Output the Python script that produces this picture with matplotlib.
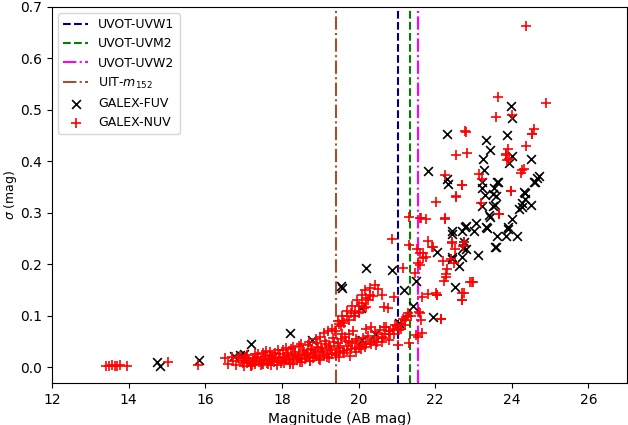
import matplotlib
matplotlib.use('Agg')
import matplotlib.pyplot as plt

# filter limiting magnitudes (AB mag)
uvw1_lim = 21.03
uvm2_lim = 21.34
uvw2_lim = 21.55
uit_lim = 19.42

# GALEX-FUV sources: magnitude, sigma
fuv_mag = [14.73, 14.81, 15.83, 16.74, 16.90, 17.02, 17.18, 18.22, 18.79, 19.55,
           19.58, 20.20, 20.87, 21.19, 21.50, 20.07, 20.43, 20.09, 21.06, 21.42,
           21.94, 22.05, 22.43, 22.70, 22.78, 23.00, 23.06, 22.75, 22.80, 22.70,
           22.62, 22.43, 23.11, 22.51, 23.58, 23.61, 23.32, 23.35, 23.43, 23.22,
           23.50, 23.58, 23.53, 23.22, 23.22, 23.63, 23.84, 23.90, 24.13, 24.00,
           24.18, 24.26, 24.34, 24.49, 24.60, 22.33, 22.30, 23.87, 23.32, 23.42,
           23.24, 24.00, 24.49, 23.92, 21.81, 22.30, 23.27, 23.61, 23.30, 23.52,
           24.65, 24.57, 24.31, 24.34, 24.26, 23.55, 23.40, 22.80, 22.43, 23.90,
           23.55, 22.72, 22.45, 23.97, 24.00, 24.72]
fuv_sig = [0.010, 0.002, 0.014, 0.023, 0.025, 0.027, 0.046, 0.066, 0.054, 0.159,
           0.155, 0.194, 0.190, 0.151, 0.167, 0.116, 0.064, 0.054, 0.087, 0.120,
           0.097, 0.225, 0.260, 0.264, 0.273, 0.264, 0.281, 0.244, 0.230, 0.215,
           0.196, 0.211, 0.219, 0.157, 0.234, 0.256, 0.273, 0.271, 0.293, 0.314,
           0.314, 0.333, 0.349, 0.349, 0.359, 0.359, 0.256, 0.273, 0.256, 0.289,
           0.308, 0.320, 0.339, 0.316, 0.359, 0.357, 0.453, 0.452, 0.442, 0.422,
           0.405, 0.410, 0.405, 0.397, 0.382, 0.366, 0.384, 0.360, 0.335, 0.336,
           0.368, 0.360, 0.341, 0.326, 0.311, 0.316, 0.295, 0.275, 0.264, 0.268,
           0.234, 0.231, 0.215, 0.508, 0.484, 0.372]

# GALEX-NUV sources: magnitude, sigma
nuv_mag = [13.40, 13.48, 13.56, 13.63, 13.70, 13.78, 13.95, 15.02, 15.80, 16.50,
           16.60, 16.80, 17.00, 17.10, 17.20, 17.30, 17.40, 17.50, 17.60, 17.70,
           17.80, 17.90, 18.00, 18.10, 18.20, 18.30, 18.40, 18.50, 18.60, 18.70,
           18.80, 18.90, 19.00, 19.10, 19.20, 19.30, 19.40, 19.50, 19.60, 19.70,
           19.80, 19.90, 20.00, 20.10, 20.20, 20.30, 20.40, 20.50, 20.60, 20.70,
           20.80, 20.90, 21.00, 21.10, 21.20, 21.30,
           16.70, 16.90, 17.10, 17.30, 17.50, 17.70, 17.90, 18.10, 18.30, 18.50,
           18.70, 18.90, 19.00, 19.10, 19.20, 19.30, 19.50, 19.60, 19.70, 19.80,
           19.90, 20.00, 20.10, 20.20, 20.30,
           16.95, 17.05, 17.15, 17.25, 17.35, 17.45, 17.55, 17.65, 17.75, 17.85,
           17.95, 18.05, 18.15, 18.25, 18.35, 18.45, 18.55, 18.65, 18.75, 18.85,
           18.95, 19.05, 19.15, 19.25, 19.35, 19.45, 19.55, 19.65, 19.75, 19.85,
           17.22, 17.48, 17.72, 17.98, 18.22, 18.48, 18.72, 18.98, 19.22, 19.48,
           16.72, 16.85, 16.98, 17.04, 17.12, 17.18, 17.26, 17.33, 17.38, 17.44,
           17.52, 17.58, 17.63, 17.68, 17.76, 17.81, 17.87, 17.93, 18.02, 18.06,
           18.12, 18.18, 18.24, 18.28, 18.33, 18.41, 18.44, 18.52, 18.57, 18.63,
           18.68, 18.74, 18.78, 18.84, 18.92, 18.97, 19.03, 19.08, 19.13, 19.18,
           19.24, 19.28, 19.34, 19.42, 19.47, 19.52, 19.58, 19.63, 19.68, 19.72,
           19.78, 19.83, 19.92, 19.97, 20.05, 20.12, 20.18, 20.24, 20.33, 20.42,
           20.48, 20.55, 20.65, 20.72, 20.83, 20.95, 21.05, 21.15, 21.22, 21.28,
           19.45, 19.58, 19.70, 19.82, 19.95, 20.08, 20.18, 20.30, 20.42, 19.90,
           20.00, 20.15,
           20.87, 21.31, 21.52, 21.60, 21.68, 21.55, 21.47, 21.16, 22.05, 20.93,
           20.51, 20.38, 20.25, 20.60, 20.66, 20.77, 20.20, 20.02, 19.88, 19.75,
           19.62, 19.53, 19.38, 20.20, 20.33, 20.66, 20.79, 21.11, 21.24, 21.37,
           21.58, 21.63, 21.50, 21.03, 21.31, 21.55, 19.75, 19.94, 20.46, 20.62,
           20.79, 20.93,
           22.70, 22.54, 22.02, 23.19, 23.97, 23.66, 21.32, 21.63, 21.76, 22.25,
           22.43, 22.75, 21.80, 21.95, 22.52, 22.28, 22.23, 22.96, 22.70, 22.70,
           22.02, 22.05, 21.65, 22.15, 21.65,
           22.80, 24.52, 24.36, 22.54, 22.82, 23.84, 23.92, 24.26, 24.23, 22.25,
           23.14, 23.22, 22.70, 22.54, 23.97, 23.66, 21.60, 22.25, 22.45, 22.75,
           22.72, 21.92, 21.68, 21.76, 22.20, 21.60, 22.40, 22.48, 22.30, 22.28,
           22.90, 22.98, 21.82, 22.75, 22.70, 21.60, 22.15,
           24.36, 23.63, 24.88, 23.60, 24.00, 22.77, 24.57, 24.52, 23.90, 23.86,
           23.88, 24.33]
nuv_sig = [0.003, 0.002, 0.004, 0.003, 0.002, 0.004, 0.003, 0.010, 0.004, 0.019,
           0.006, 0.004, 0.003, 0.008, 0.005, 0.006, 0.010, 0.007, 0.009, 0.012,
           0.010, 0.013, 0.012, 0.015, 0.011, 0.016, 0.014, 0.018, 0.016, 0.020,
           0.019, 0.022, 0.021, 0.024, 0.026, 0.027, 0.029, 0.030, 0.032, 0.034,
           0.036, 0.038, 0.040, 0.043, 0.046, 0.050, 0.053, 0.057, 0.060, 0.065,
           0.070, 0.075, 0.080, 0.085, 0.092, 0.100,
           0.020, 0.022, 0.025, 0.026, 0.028, 0.030, 0.034, 0.037, 0.040, 0.045,
           0.050, 0.055, 0.060, 0.066, 0.070, 0.075, 0.085, 0.090, 0.100, 0.105,
           0.110, 0.120, 0.125, 0.135, 0.140,
           0.012, 0.018, 0.010, 0.016, 0.020, 0.013, 0.022, 0.017, 0.024, 0.019,
           0.026, 0.021, 0.028, 0.023, 0.030, 0.025, 0.033, 0.027, 0.036, 0.030,
           0.040, 0.034, 0.045, 0.038, 0.050, 0.042, 0.055, 0.060, 0.065, 0.070,
           0.004, 0.006, 0.005, 0.008, 0.007, 0.010, 0.012, 0.015, 0.018, 0.020,
           0.012, 0.018, 0.009, 0.021, 0.015, 0.002, 0.019, 0.012, 0.026, 0.004,
           0.016, 0.031, 0.006, 0.021, 0.014, 0.028, 0.005, 0.019, 0.033, 0.008,
           0.024, 0.017, 0.036, 0.006, 0.027, 0.021, 0.041, 0.010, 0.030, 0.024,
           0.044, 0.013, 0.034, 0.027, 0.047, 0.016, 0.038, 0.030, 0.052, 0.020,
           0.042, 0.034, 0.058, 0.024, 0.047, 0.038, 0.064, 0.028, 0.051, 0.042,
           0.022, 0.047, 0.030, 0.052, 0.035, 0.057, 0.040, 0.062, 0.045, 0.068,
           0.050, 0.072, 0.057, 0.078, 0.064, 0.083, 0.072, 0.095, 0.083, 0.105,
           0.090, 0.100, 0.110, 0.120, 0.130, 0.140, 0.150, 0.155, 0.160, 0.100,
           0.105, 0.115,
           0.250, 0.238, 0.229, 0.223, 0.213, 0.203, 0.184, 0.194, 0.141, 0.136,
           0.153, 0.138, 0.131, 0.141, 0.118, 0.116, 0.118, 0.107, 0.100, 0.093,
           0.087, 0.081, 0.070, 0.074, 0.079, 0.078, 0.070, 0.074, 0.097, 0.099,
           0.107, 0.093, 0.063, 0.043, 0.048, 0.060, 0.049, 0.056, 0.043, 0.049,
           0.054, 0.064,
           0.355, 0.333, 0.322, 0.320, 0.343, 0.298, 0.293, 0.290, 0.289, 0.290,
           0.241, 0.243, 0.246, 0.233, 0.229, 0.176, 0.168, 0.165, 0.145, 0.130,
           0.145, 0.140, 0.136, 0.095, 0.066,
           0.457, 0.453, 0.430, 0.413, 0.417, 0.415, 0.405, 0.384, 0.378, 0.374,
           0.376, 0.366, 0.355, 0.331, 0.343, 0.297, 0.291, 0.289, 0.243, 0.243,
           0.235, 0.233, 0.222, 0.214, 0.206, 0.199, 0.211, 0.202, 0.191, 0.182,
           0.165, 0.165, 0.142, 0.145, 0.130, 0.106, 0.095,
           0.663, 0.525, 0.514, 0.486, 0.490, 0.459, 0.463, 0.453, 0.424, 0.413,
           0.403, 0.385]

fig, ax = plt.subplots(figsize=(6.28, 4.25), dpi=100)
fig.subplots_adjust(left=0.083, right=0.998, top=0.984, bottom=0.099)

ax.axvline(uvw1_lim, color='navy', ls='--', lw=1.5, label='UVOT-UVW1')
ax.axvline(uvm2_lim, color='green', ls='--', lw=1.5, label='UVOT-UVM2')
ax.axvline(uvw2_lim, color='magenta', ls='-.', lw=1.5, label='UVOT-UVW2')
ax.axvline(uit_lim, color='sienna', ls='-.', lw=1.5, label='UIT-$m_{152}$')

ax.scatter(fuv_mag, fuv_sig, marker='x', color='black', s=40, lw=1.2,
           label='GALEX-FUV', zorder=3)
ax.scatter(nuv_mag, nuv_sig, marker='+', color='red', s=45, lw=1.2,
           label='GALEX-NUV', zorder=3)

ax.set_xlim(12, 27)
ax.set_ylim(-0.03, 0.7)
ax.set_xticks([12, 14, 16, 18, 20, 22, 24, 26])
ax.tick_params(labelsize=10)
ax.set_xlabel('Magnitude (AB mag)', fontsize=10)
ax.set_ylabel(r'$\sigma$ (mag)', fontsize=9)
ax.yaxis.set_label_coords(-0.058, 0.5)
ax.legend(loc='upper left', fontsize=9)

plt.savefig('out.png')
